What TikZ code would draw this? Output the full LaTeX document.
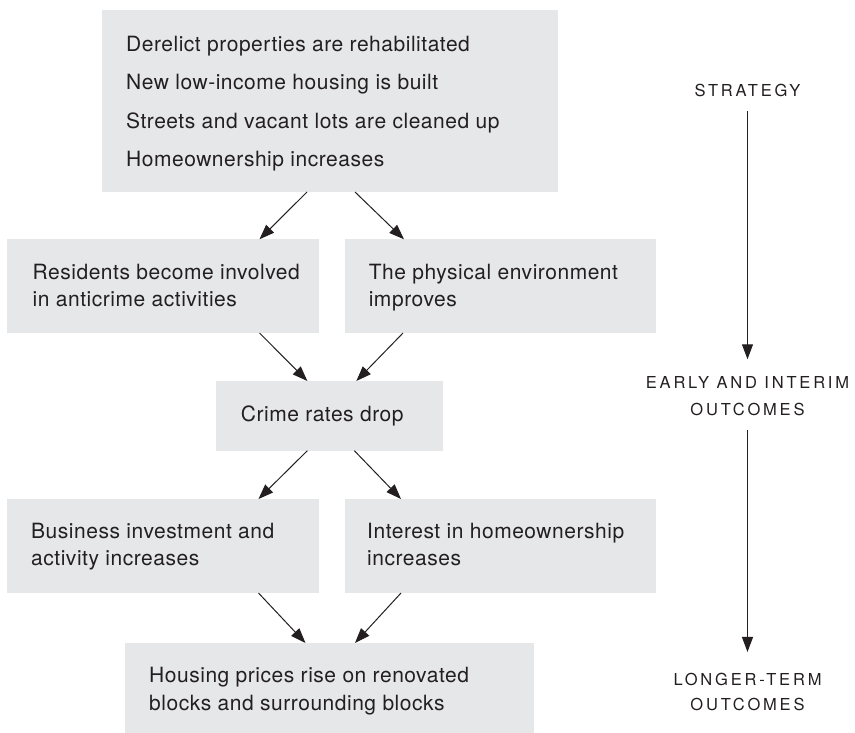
\documentclass[tikz,border=0pt]{standalone}
\usepackage{fontspec}
\setmainfont{TeX Gyre Heros}
\newfontfamily\boxfont[LetterSpace=2.5]{TeX Gyre Heros}
\newfontfamily\stagefont[LetterSpace=17]{TeX Gyre Heros}
\usetikzlibrary{arrows.meta}
\definecolor{boxgray}{RGB}{230,231,232}
\definecolor{ink}{RGB}{35,31,32}
\begin{document}
\begin{tikzpicture}[x=1pt,y=-1pt,
  box/.style={fill=boxgray, draw=none, inner sep=0pt, outer sep=0pt, anchor=north west},
  txt/.style={anchor=base west, inner sep=0pt, text=ink, font=\boxfont\fontsize{21}{25}\selectfont},
  stage/.style={anchor=base, inner sep=0pt, text=ink, font=\stagefont\fontsize{16.5}{19}\selectfont},
  flow/.style={draw=ink, line width=1pt, -{Triangle[length=15pt,width=11pt]}},
]
\useasboundingbox (0,0) rectangle (855,733);

% shaded boxes
\node[box, minimum width=456pt, minimum height=182pt]  (top)     at (102,10)    {};
\node[box, minimum width=312pt, minimum height=93.7pt] (resid)   at (6.5,239.3) {};
\node[box, minimum width=311pt, minimum height=93.7pt] (phys)    at (344.5,239.3) {};
\node[box, minimum width=226.7pt, minimum height=69.7pt] (crime) at (216,381)   {};
\node[box, minimum width=312pt, minimum height=94pt]   (biz)     at (6.5,499)   {};
\node[box, minimum width=311pt, minimum height=94pt]   (home)    at (344.5,499) {};
\node[box, minimum width=409pt, minimum height=89.7pt] (housing) at (125,643)   {};

% strategy
\node[txt] (s1) at (126,51.7)  {Derelict properties are rehabilitated};
\node[txt] (s2) at (126,89.5)  {New low-income housing is built};
\node[txt] (s3) at (126,128.3) {Streets and vacant lots are cleaned up};
\node[txt] (s4) at (126,166.6) {Homeownership increases};

% early and interim outcomes
\node[txt] (r1) at (32.5,279.3)  {Residents become involved};
\node[txt] (r2) at (32.5,306)    {in anticrime activities};
\node[txt] (p1) at (368.6,279.3) {The physical environment};
\node[txt] (p2) at (368.6,306)   {improves};
\node[txt] (c1) at (240.7,421)   {Crime rates drop};
\node[txt] (b1) at (31,538)      {Business investment and};
\node[txt] (b2) at (31,565)      {activity increases};
\node[txt] (h1) at (367,538)     {Interest in homeownership};
\node[txt] (h2) at (367,565)     {increases};

% longer-term outcome
\node[txt] (g1) at (149,682.7) {Housing prices rise on renovated};
\node[txt] (g2) at (149,710)   {blocks and surrounding blocks};

% causal links
\draw[flow] ([xshift=-23pt]top.south)   -- ([xshift=97pt]resid.north);
\draw[flow] ([xshift=25pt]top.south)    -- ([xshift=-96pt]phys.north);
\draw[flow] ([xshift=97pt]resid.south)  -- ([xshift=-22pt]crime.north);
\draw[flow] ([xshift=-97pt]phys.south)  -- ([xshift=27pt]crime.north);
\draw[flow] ([xshift=-22pt]crime.south) -- ([xshift=96pt]biz.north);
\draw[flow] ([xshift=25pt]crime.south)  -- ([xshift=-99pt]home.north);
\draw[flow] ([xshift=96pt]biz.south)    -- ([xshift=-24pt]housing.north);
\draw[flow] ([xshift=-99pt]home.south)  -- ([xshift=25.5pt]housing.north);

% stage column
\node[stage] (strategy) at (747.5,96.7)  {STRATEGY};
\node[stage] (early)    at (747.5,388)   {EARLY AND INTERIM};
\node[stage] (early2)   at (747.5,415.5) {OUTCOMES};
\node[stage] (longer)   at (747.5,685)   {LONGER-TERM};
\node[stage] (longer2)  at (747.5,710)   {OUTCOMES};

\draw[flow] ([yshift=-14pt]strategy.south) -- ([yshift=16.5pt]early.north);
\draw[flow] ([yshift=-14.5pt]early2.south) -- ([yshift=20.5pt]longer.north);
\end{tikzpicture}
\end{document}
